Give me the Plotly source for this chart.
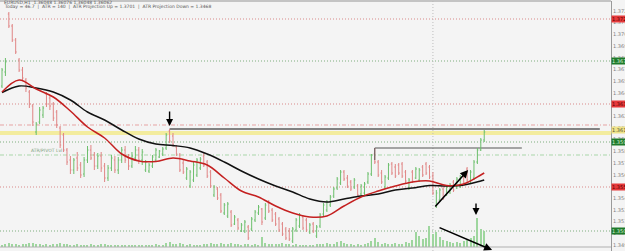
import plotly.graph_objects as go

# ---------------- data (EURUSD H1, prices) ----------------
bar_index = list(range(142))

open_ = [1.3654, 1.3668, 1.3726, 1.3714, 1.3700, 1.3680, 1.3670, 1.3660, 1.3648, 1.3634,
         1.3608, 1.3618, 1.3625, 1.3646, 1.3642, 1.3636, 1.3628, 1.3612, 1.3605, 1.3590,
         1.3580, 1.3570, 1.3582, 1.3575, 1.3566, 1.3580, 1.3590, 1.3585, 1.3574, 1.3584,
         1.3574, 1.3562, 1.3572, 1.3580, 1.3570, 1.3580, 1.3590, 1.3582, 1.3574, 1.3582,
         1.3590, 1.3580, 1.3570, 1.3569, 1.3574, 1.3580, 1.3583, 1.3586, 1.3592, 1.3609,
         1.3604, 1.3593, 1.3585, 1.3577, 1.3562, 1.3554, 1.3560, 1.3565, 1.3572, 1.3584,
         1.3578, 1.3568, 1.3545, 1.3551, 1.3545, 1.3527, 1.3524, 1.3528, 1.3516, 1.3520,
         1.3509, 1.3509, 1.3513, 1.3511, 1.3520, 1.3527, 1.3531, 1.3522, 1.3537, 1.3530,
         1.3526, 1.3521, 1.3516, 1.3511, 1.3509, 1.3499, 1.3510, 1.3514, 1.3523, 1.3520,
         1.3508, 1.3516, 1.3504, 1.3514, 1.3526, 1.3530, 1.3535, 1.3544, 1.3552, 1.3557,
         1.3568, 1.3562, 1.3558, 1.3553, 1.3554, 1.3546, 1.3547, 1.3558, 1.3566, 1.3586,
         1.3578, 1.3567, 1.3553, 1.3562, 1.3576, 1.3573, 1.3575, 1.3576, 1.3568, 1.3552,
         1.3568, 1.3562, 1.3560, 1.3573, 1.3576, 1.3573, 1.3564, 1.3534, 1.3540, 1.3551,
         1.3545, 1.3548, 1.3558, 1.3552, 1.3554, 1.3566, 1.3571, 1.3559, 1.3562, 1.3578,
         1.3590, 1.3600]

high = [1.3672, 1.3682, 1.3728, 1.3716, 1.3702, 1.3682, 1.3673, 1.3662, 1.3650, 1.3636,
        1.3618, 1.3633, 1.3634, 1.3648, 1.3644, 1.3638, 1.3630, 1.3614, 1.3607, 1.3592,
        1.3584, 1.3582, 1.3588, 1.3578, 1.3583, 1.3594, 1.3595, 1.3588, 1.3587, 1.3588,
        1.3577, 1.3575, 1.3585, 1.3584, 1.3583, 1.3593, 1.3594, 1.3586, 1.3588, 1.3594,
        1.3593, 1.3591, 1.3580, 1.3577, 1.3585, 1.3592, 1.3590, 1.3593, 1.3607, 1.3611,
        1.3607, 1.3595, 1.3587, 1.3580, 1.3573, 1.3570, 1.3578, 1.3582, 1.3583, 1.3587,
        1.3580, 1.3570, 1.3555, 1.3553, 1.3547, 1.3537, 1.3538, 1.3530, 1.3525, 1.3522,
        1.3517, 1.3520, 1.3515, 1.3523, 1.3530, 1.3535, 1.3532, 1.3537, 1.3540, 1.3532,
        1.3528, 1.3523, 1.3518, 1.3513, 1.3512, 1.3513, 1.3522, 1.3527, 1.3525, 1.3522,
        1.3517, 1.3518, 1.3515, 1.3527, 1.3537, 1.3540, 1.3545, 1.3553, 1.3563, 1.3570,
        1.3570, 1.3565, 1.3560, 1.3562, 1.3556, 1.3556, 1.3558, 1.3568, 1.3586, 1.3592,
        1.3580, 1.3570, 1.3565, 1.3577, 1.3578, 1.3576, 1.3577, 1.3578, 1.3570, 1.3562,
        1.3570, 1.3573, 1.3572, 1.3575, 1.3578, 1.3575, 1.3568, 1.3550, 1.3552, 1.3553,
        1.3555, 1.3557, 1.3560, 1.3563, 1.3565, 1.3568, 1.3573, 1.3570, 1.3580, 1.3592,
        1.3602, 1.3610]

low = [1.3652, 1.3664, 1.3712, 1.3698, 1.3686, 1.3668, 1.3660, 1.3648, 1.3632, 1.3614,
       1.3605, 1.3616, 1.3622, 1.3633, 1.3630, 1.3619, 1.3612, 1.3592, 1.3588, 1.3575,
       1.3566, 1.3566, 1.3569, 1.3562, 1.3563, 1.3577, 1.3580, 1.3570, 1.3571, 1.3568,
       1.3558, 1.3559, 1.3569, 1.3567, 1.3566, 1.3577, 1.3577, 1.3570, 1.3572, 1.3579,
       1.3576, 1.3575, 1.3568, 1.3567, 1.3572, 1.3578, 1.3582, 1.3584, 1.3590, 1.3597,
       1.3593, 1.3584, 1.3568, 1.3566, 1.3560, 1.3552, 1.3558, 1.3563, 1.3570, 1.3573,
       1.3562, 1.3552, 1.3543, 1.3540, 1.3527, 1.3525, 1.3522, 1.3513, 1.3515, 1.3510,
       1.3508, 1.3507, 1.3500, 1.3509, 1.3518, 1.3525, 1.3515, 1.3520, 1.3527, 1.3518,
       1.3514, 1.3508, 1.3504, 1.3500, 1.3499, 1.3497, 1.3508, 1.3512, 1.3510, 1.3508,
       1.3506, 1.3507, 1.3502, 1.3512, 1.3524, 1.3528, 1.3533, 1.3542, 1.3550, 1.3555,
       1.3559, 1.3552, 1.3549, 1.3551, 1.3543, 1.3544, 1.3545, 1.3556, 1.3564, 1.3576,
       1.3563, 1.3556, 1.3551, 1.3560, 1.3565, 1.3562, 1.3565, 1.3562, 1.3557, 1.3550,
       1.3557, 1.3561, 1.3558, 1.3563, 1.3565, 1.3561, 1.3545, 1.3532, 1.3538, 1.3540,
       1.3544, 1.3546, 1.3548, 1.3551, 1.3552, 1.3555, 1.3558, 1.3557, 1.3560, 1.3576,
       1.3589, 1.3598]

close = [1.3670, 1.3678, 1.3714, 1.3700, 1.3688, 1.3670, 1.3662, 1.3652, 1.3636, 1.3618,
         1.3616, 1.3630, 1.3632, 1.3636, 1.3634, 1.3622, 1.3615, 1.3595, 1.3590, 1.3578,
         1.3570, 1.3580, 1.3572, 1.3565, 1.3580, 1.3590, 1.3582, 1.3574, 1.3584, 1.3572,
         1.3562, 1.3572, 1.3582, 1.3570, 1.3580, 1.3590, 1.3580, 1.3574, 1.3584, 1.3590,
         1.3580, 1.3588, 1.3578, 1.3575, 1.3583, 1.3590, 1.3589, 1.3591, 1.3605, 1.3599,
         1.3595, 1.3586, 1.3570, 1.3568, 1.3571, 1.3568, 1.3575, 1.3580, 1.3581, 1.3575,
         1.3564, 1.3554, 1.3553, 1.3542, 1.3529, 1.3535, 1.3536, 1.3515, 1.3523, 1.3512,
         1.3515, 1.3518, 1.3502, 1.3521, 1.3528, 1.3533, 1.3518, 1.3535, 1.3529, 1.3520,
         1.3516, 1.3510, 1.3506, 1.3502, 1.3501, 1.3511, 1.3520, 1.3525, 1.3512, 1.3510,
         1.3515, 1.3509, 1.3513, 1.3525, 1.3535, 1.3538, 1.3543, 1.3551, 1.3561, 1.3568,
         1.3561, 1.3554, 1.3551, 1.3560, 1.3545, 1.3554, 1.3556, 1.3566, 1.3585, 1.3578,
         1.3565, 1.3558, 1.3563, 1.3575, 1.3567, 1.3564, 1.3567, 1.3564, 1.3559, 1.3560,
         1.3559, 1.3571, 1.3570, 1.3565, 1.3567, 1.3563, 1.3547, 1.3547, 1.3550, 1.3542,
         1.3553, 1.3555, 1.3550, 1.3561, 1.3563, 1.3557, 1.3560, 1.3568, 1.3578, 1.3590,
         1.3600, 1.3608]

volume = [250, 300, 450, 350, 300, 250, 300, 350, 400, 450,
          350, 300, 250, 300, 250, 350, 300, 400, 350, 300,
          250, 200, 300, 250, 200, 250, 300, 200, 250, 300,
          350, 250, 200, 250, 150, 200, 250, 200, 150, 200,
          150, 200, 250, 200, 250, 300, 200, 250, 400, 550,
          350, 300, 400, 350, 250, 300, 250, 200, 250, 300,
          350, 400, 300, 350, 450, 300, 350, 400, 300, 350,
          250, 300, 350, 250, 300, 250, 1000, 400, 300, 350,
          300, 350, 400, 350, 300, 250, 300, 250, 200, 250,
          200, 250, 300, 350, 300, 450, 350, 300, 500, 600,
          450, 350, 300, 250, 300, 250, 300, 450, 600, 900,
          500, 350, 450, 300, 350, 450, 300, 350, 500, 450,
          700, 1500, 1100, 800, 900, 2100, 1300, 1500, 1000, 700,
          600, 500, 400, 500, 400, 600, 700, 900, 1100, 2900,
          1800, 1600]

ma_index = list(range(0, 141, 5)) + [141]
ma_fast = [1.3648, 1.3660, 1.3651, 1.3643, 1.3629, 1.3613, 1.3602, 1.3586, 1.3579, 1.35785,
           1.3582, 1.3579, 1.3575, 1.3562, 1.3549, 1.3543, 1.3534, 1.3527, 1.3523, 1.3524,
           1.3534, 1.3543, 1.3549, 1.3554, 1.3558, 1.3559, 1.35545, 1.3556, 1.3565, 1.3567]
ma_slow = [1.36475, 1.3654, 1.3652, 1.3648, 1.3640, 1.3628, 1.3620, 1.3610, 1.3601, 1.3596,
           1.35945, 1.3592, 1.3586, 1.3578, 1.3569, 1.3561, 1.3554, 1.3548, 1.3541, 1.3538,
           1.3541, 1.3544, 1.3546, 1.3550, 1.3552, 1.35545, 1.3554, 1.3555, 1.3559, 1.3560]

tick_values = [1.37290, 1.37173, 1.37056, 1.36939, 1.36822, 1.36705, 1.36588, 1.36471,
               1.36354, 1.36237, 1.36120, 1.36003, 1.35886, 1.35769, 1.35652, 1.35535,
               1.35418, 1.35301, 1.35184, 1.35067, 1.34950]

red_levels = [1.3721, 1.3636, 1.3553]
green_levels = [1.3679, 1.3598, 1.3509]
red_dashdot_level = 1.3615
green_dashdot_level = 1.3585
resistance_ray = 1.3611          # black ray from the arrowed bar
resistance_ray_start = 49
current_price = 1.3607
box_top = 1.3592
box_bottom = 1.3580
box_start, box_end = 109, 152
separator_bar = 126

header_1 = "EURUSD,H1  1.36048 1.36076 1.36048 1.36062"
header_2 = "Today = 46.7  |  ATR = 140  |  ATR Projection Up = 1.3701  |  ATR Projection Down = 1.3468"
level_text = "ATR/PIVOT Lvl"

X_RANGE = [-0.585, 178.07]
Y_RANGE = [1.3489, 1.3739]

# ---------------- figure ----------------
fig = go.Figure()

fig.add_trace(go.Bar(x=bar_index, y=volume, yaxis="y2", width=0.3,
                     marker=dict(color="#9ed69e", line=dict(width=0)), hoverinfo="skip"))

fig.add_trace(go.Ohlc(x=bar_index, open=open_, high=high, low=low, close=close,
                      increasing=dict(line=dict(color="#6cbf6c", width=1)),
                      decreasing=dict(line=dict(color="#e08585", width=1)),
                      tickwidth=0.3, hoverinfo="skip"))

fig.add_trace(go.Scatter(x=ma_index, y=ma_slow, mode="lines",
                         line=dict(color="#111111", width=1.5, shape="spline", smoothing=1.0),
                         hoverinfo="skip"))
fig.add_trace(go.Scatter(x=ma_index, y=ma_fast, mode="lines",
                         line=dict(color="#c42020", width=1.5, shape="spline", smoothing=1.0),
                         hoverinfo="skip"))

shapes = []

def hline(y, color, dash, width=1, x0=None, x1=None):
    d = dict(type="line", yref="y", y0=y, y1=y, layer="below",
             line=dict(color=color, width=width, dash=dash))
    if x0 is None:
        d.update(xref="paper", x0=0, x1=1)
    else:
        d.update(xref="x", x0=x0, x1=x1)
    shapes.append(d)

for lv in red_levels:
    hline(lv, "#d98a8a", "1px,2px")
for lv in green_levels:
    hline(lv, "#7fae7f", "1px,2px")
hline(red_dashdot_level, "#e6a3a3", "4px,2px,1px,2px")
hline(green_dashdot_level, "#a9d6a9", "4px,2px,1px,2px")
hline(current_price, "#f3ec9e", "solid", width=4)
hline(resistance_ray, "#111111", "solid", width=1.2, x0=resistance_ray_start, x1=174.8)
hline(box_top, "#555555", "solid", width=1, x0=box_start, x1=box_end)
shapes.append(dict(type="line", xref="x", yref="y", x0=box_start, x1=box_start,
                   y0=box_top, y1=box_bottom, line=dict(color="#555555", width=1)))
shapes.append(dict(type="line", xref="x", yref="paper", x0=separator_bar, x1=separator_bar,
                   y0=0, y1=1, layer="below", line=dict(color="#bdbdbd", width=1, dash="1px,2px")))
shapes.append(dict(type="line", xref="paper", yref="y2", x0=0, x1=1, y0=0, y1=0,
                   line=dict(color="#b0b0b0", width=1)))
shapes.append(dict(type="line", xref="paper", yref="paper", x0=0, x1=1, y0=1, y1=1,
                   line=dict(color="#b5b5b5", width=1.5)))

annotations = []

def arrow(x_tail, y_tail, x_head, y_head, w=1.4):
    annotations.append(dict(x=x_head, y=y_head, ax=x_tail, ay=y_tail, xref="x", yref="y",
                            axref="x", ayref="y", text="", showarrow=True, arrowhead=2,
                            arrowsize=1, arrowwidth=w, arrowcolor="#000000"))

arrow(49, 1.3630, 49, 1.3614)
arrow(138.6, 1.3538, 138.6, 1.3525)
arrow(126.3, 1.3532, 136.3, 1.3570, 1.6)
arrow(127.5, 1.3513, 143.3, 1.3490, 1.6)

def axis_label(price, bg, fg):
    annotations.append(dict(xref="paper", x=1.0, xanchor="left", yref="y", y=price,
                            yanchor="middle", text=f"{price:.5f}", showarrow=False,
                            font=dict(size=5, color=fg, family="DejaVu Sans"),
                            bgcolor=bg, borderpad=0))

for lv in red_levels:
    axis_label(lv, "#e5393b", "#5a0000")
for lv in green_levels:
    axis_label(lv, "#1f7a2a", "#d8f0d8")
axis_label(current_price + 0.0003, "#efe38a", "#555533")

annotations.append(dict(xref="paper", yref="paper", x=0.003, y=0.993, xanchor="left",
                        yanchor="middle", text=header_1, showarrow=False,
                        font=dict(size=4.5, color="#555555", family="DejaVu Sans")))
annotations.append(dict(xref="paper", yref="paper", x=0.003, y=0.976, xanchor="left",
                        yanchor="middle", text=header_2, showarrow=False,
                        font=dict(size=4.5, color="#555555", family="DejaVu Sans")))
annotations.append(dict(xref="x", yref="y", x=8, y=green_dashdot_level, xanchor="left",
                        yanchor="bottom", text=level_text, showarrow=False,
                        font=dict(size=4.5, color="#7f9f7f", family="DejaVu Sans")))

fig.update_layout(
    width=625, height=251, autosize=False,
    margin=dict(l=0, r=14, t=1, b=0, pad=0),
    paper_bgcolor="#f4f4f4", plot_bgcolor="#f4f4f4",
    showlegend=False, bargap=0,
    shapes=shapes, annotations=annotations,
    xaxis=dict(range=X_RANGE, rangeslider=dict(visible=False), showgrid=False,
               zeroline=False, showticklabels=False, ticks="", showline=False),
    yaxis=dict(range=Y_RANGE, side="right", tickvals=tick_values,
               ticktext=[f"{v:.5f}" for v in tick_values], showgrid=False, zeroline=False,
               ticks="", showline=True, linecolor="#9a9a9a", linewidth=1,
               tickfont=dict(size=5, color="#808080", family="DejaVu Sans"),
               automargin=False),
    yaxis2=dict(overlaying="y", range=[-400, 24600], visible=False, fixedrange=True),
)

fig.write_html("out.html")
